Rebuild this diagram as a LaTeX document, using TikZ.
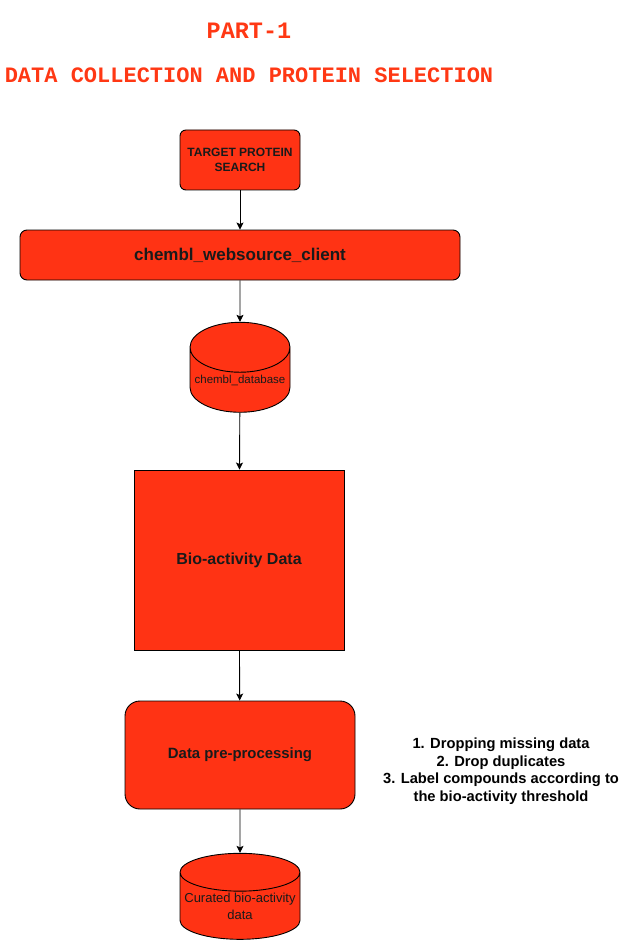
\documentclass[tikz,border=0pt]{standalone}
\usepackage{fontspec}
\setmainfont{Liberation Sans}
\newfontfamily\titlefont{Liberation Mono}
\usetikzlibrary{shapes.geometric,arrows.meta,positioning}

\definecolor{flowred}{HTML}{FF3314}
\definecolor{titlered}{HTML}{FF3814}
\definecolor{labelink}{HTML}{1A1A1A}

\tikzset{
    box/.style={draw=black, line width=0.9pt, fill=flowred, text=labelink,
                font=\bfseries, align=center, inner sep=0pt},
    dbase/.style={box, cylinder, shape border rotate=90, font=\normalfont},
    arrow/.style={-{Stealth[length=7pt,width=7pt,inset=1.5pt]}, line width=0.9pt},
    heading/.style={text=titlered, font=\titlefont\bfseries\fontsize{22}{26}\selectfont}
}

\begin{document}
\begin{tikzpicture}[x=1pt,y=-1pt]
    % Canvas
    \useasboundingbox (0,0) rectangle (631,941);

    % Titles
    \node[heading, font=\titlefont\bfseries\fontsize{23.5}{28}\selectfont] (part) at (249,31) {PART-1};
    \node[heading] (title) at (249,75) {DATA COLLECTION AND PROTEIN SELECTION};

    % Flow boxes
    \node[box, rounded corners=6pt, minimum width=120pt, minimum height=60pt,
          font=\bfseries\fontsize{12}{14.5}\selectfont] (target) at (240,160)
        {TARGET PROTEIN\\SEARCH};
    \node[box, rounded corners=7pt, minimum width=440pt, minimum height=50pt,
          font=\bfseries\fontsize{17}{20}\selectfont] (client) at (240,255)
        {chembl\_websource\_client};
    \node[dbase, aspect=0.55, minimum width=100pt, minimum height=90pt,
          font=\fontsize{11.5}{14}\selectfont] (db) at (240,380)
        {chembl\_database};
    \node[box, minimum width=210pt, minimum height=180pt,
          font=\bfseries\fontsize{16}{19}\selectfont] (bio) at (239,560)
        {Bio-activity Data};
    \node[box, rounded corners=15pt, minimum width=230pt, minimum height=108pt,
          font=\bfseries\fontsize{14.9}{17}\selectfont] (prep) at (240,755)
        {Data pre-processing};
    \node[dbase, aspect=0.34, minimum width=120pt, minimum height=86pt,
          font=\fontsize{13}{17}\selectfont] (curated) at (240,906)
        {Curated bio-activity\\data};

    % Steps note
    \node[align=center, text=black, font=\bfseries\fontsize{14.7}{17.6}\selectfont] (steps) at (501,771)
        {1. Dropping missing data\\2. Drop duplicates\\3. Label compounds according to\\the bio-activity threshold};

    % Connectors
    \foreach \a/\b in {target/client, client/db, db/bio, bio/prep, prep/curated}
        \draw[arrow] (\a) -- (\b);
\end{tikzpicture}
\end{document}
